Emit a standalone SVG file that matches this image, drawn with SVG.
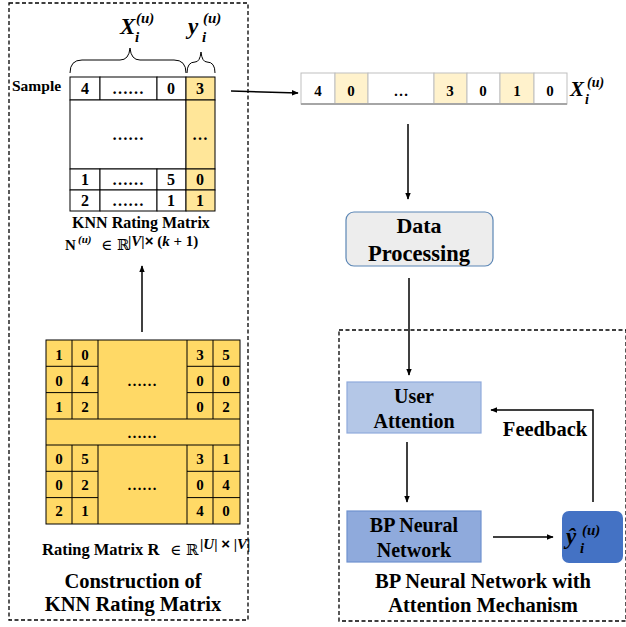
<svg xmlns="http://www.w3.org/2000/svg" width="626" height="627" viewBox="0 0 626 627" font-family="'Liberation Serif', 'Times New Roman', serif" font-weight="bold">
<defs>
<marker id="ah" viewBox="0 0 10 10" refX="9" refY="5" markerWidth="7" markerHeight="7" orient="auto" markerUnits="userSpaceOnUse"><path d="M0,1 L10,5 L0,9 Z" fill="#000"/></marker>
<style>
text{font-family:'Liberation Serif','Times New Roman',serif;font-weight:bold;fill:#000}
.dash{fill:none;stroke:#000;stroke-width:1.3;stroke-dasharray:4,2.5}
.c{text-anchor:middle}
.n{font-size:16px;text-anchor:middle}
.r{font-size:15px;text-anchor:middle}
.knn{fill:#fff;stroke:#000;stroke-width:1}
.ky{fill:#FFE699;stroke:#000;stroke-width:1}
.rm{fill:#FFD966;stroke:#000;stroke-width:1}
.vw{fill:#fff;stroke:#BFBFBF;stroke-width:1}
.vy{fill:#FFF2CC;stroke:#BFBFBF;stroke-width:1}
.ln{fill:none;stroke:#000;stroke-width:1.5}
.math{font-style:italic}
.big{font-size:20.5px}
.dbl{font-family:'DejaVu Serif',serif;font-weight:normal}
.sup{font-family:'Liberation Sans',Arial,sans-serif;font-weight:bold}
</style>
</defs>

<rect class="dash" x="9" y="3" width="239" height="617"/>
<rect class="dash" x="339" y="330" width="287" height="291"/>

<g id="knn-matrix">
<path d="M70,73 Q70,60 82,60 L120,60 Q129,60 130,48 Q131,60 140,60 L174,60 Q186,60 186,73" fill="none" stroke="#000" stroke-width="1"/>
<path d="M187,73 Q187,62 195,62 Q200,62 201,52 Q202,62 207,62 Q215,62 215,73" fill="none" stroke="#000" stroke-width="1"/>
<text x="120" y="34" class="math" font-size="23">X</text>
<text x="135" y="42" class="math" font-size="15">i</text>
<text x="136" y="23" class="math" font-size="15">(u)</text>
<text x="188" y="34" class="math" font-size="23">y</text>
<text x="202" y="42" class="math" font-size="15">i</text>
<text x="203" y="23" class="math" font-size="15">(u)</text>
<text x="12" y="91" font-size="15.5">Sample</text>
<rect class="knn" x="70" y="77" width="30" height="23"/>
<rect class="knn" x="100" y="77" width="57" height="23"/>
<rect class="knn" x="157" y="77" width="29" height="23"/>
<rect class="knn" x="70" y="100" width="116" height="69"/>
<rect class="knn" x="70" y="169" width="30" height="21"/>
<rect class="knn" x="100" y="169" width="57" height="21"/>
<rect class="knn" x="157" y="169" width="29" height="21"/>
<rect class="knn" x="70" y="190" width="30" height="21"/>
<rect class="knn" x="100" y="190" width="57" height="21"/>
<rect class="knn" x="157" y="190" width="29" height="21"/>
<rect class="ky" x="186" y="77" width="29" height="23"/>
<rect class="ky" x="186" y="100" width="29" height="69"/>
<rect class="ky" x="186" y="169" width="29" height="21"/>
<rect class="ky" x="186" y="190" width="29" height="21"/>
<text class="n" x="85" y="94">4</text><text class="n" x="128" y="94">……</text><text class="n" x="171" y="94">0</text><text class="n" x="200" y="94">3</text>
<text class="n" x="128" y="140">……</text><text class="n" x="200" y="140">…</text>
<text class="n" x="85" y="185">1</text><text class="n" x="128" y="185">……</text><text class="n" x="171" y="185">5</text><text class="n" x="200" y="185">0</text>
<text class="n" x="85" y="206">2</text><text class="n" x="128" y="206">……</text><text class="n" x="171" y="206">1</text><text class="n" x="200" y="206">1</text>
<text class="c" x="141" y="228" font-size="16">KNN Rating Matrix</text>
<text x="65" y="250" font-size="15">N</text>
<text x="78" y="243" class="math" font-size="11" font-weight="normal">(u)</text>
<text x="101" y="250" class="dbl" font-size="15">∈ ℝ</text>
<text x="128" y="246" font-size="15">|<tspan class="math">V</tspan>|<tspan class="sup">×</tspan> (<tspan class="math">k</tspan> + 1)</text>
</g>

<g id="rating-matrix">
<rect class="rm" x="46" y="340" width="194" height="184"/>
<g stroke="#000" stroke-width="1" fill="none">
<path d="M72,340V419 M98,340V419 M187,340V419 M213,340V419 M46,366.3H98 M187,366.3H240 M46,392.6H98 M187,392.6H240 M46,419H240 M46,445H240"/>
<path d="M72,445V524 M98,445V524 M187,445V524 M213,445V524 M46,471.3H98 M187,471.3H240 M46,497.6H98 M187,497.6H240"/>
</g>
<text class="r" x="59" y="360">1</text><text class="r" x="85" y="360">0</text><text class="r" x="200" y="360">3</text><text class="r" x="226" y="360">5</text>
<text class="r" x="59" y="386">0</text><text class="r" x="85" y="386">4</text><text class="r" x="200" y="386">0</text><text class="r" x="226" y="386">0</text>
<text class="r" x="59" y="412">1</text><text class="r" x="85" y="412">2</text><text class="r" x="200" y="412">0</text><text class="r" x="226" y="412">2</text>
<text class="r" x="142" y="386">……</text>
<text class="r" x="142" y="438">……</text>
<text class="r" x="59" y="464">0</text><text class="r" x="85" y="464">5</text><text class="r" x="200" y="464">3</text><text class="r" x="226" y="464">1</text>
<text class="r" x="59" y="490">0</text><text class="r" x="85" y="490">2</text><text class="r" x="200" y="490">0</text><text class="r" x="226" y="490">4</text>
<text class="r" x="59" y="516">2</text><text class="r" x="85" y="516">1</text><text class="r" x="200" y="516">4</text><text class="r" x="226" y="516">0</text>
<text class="r" x="142" y="490">……</text>
<text x="42" y="555" font-size="16.5">Rating Matrix  R</text>
<text x="170" y="555" class="dbl" font-size="15">∈ ℝ</text>
<text x="200" y="549" font-size="15">|<tspan class="math">U</tspan>| <tspan class="sup">×</tspan> |<tspan class="math">V</tspan>|</text>
<text class="c big" x="133" y="588">Construction of</text>
<text class="c big" x="133" y="611">KNN Rating Matrix</text>
</g>

<g id="vector">
<rect class="vw" x="301" y="73" width="34" height="31"/>
<rect class="vy" x="335" y="73" width="33" height="31"/>
<rect class="vw" x="368" y="73" width="66" height="31"/>
<rect class="vy" x="434" y="73" width="33" height="31"/>
<rect class="vw" x="467" y="73" width="33" height="31"/>
<rect class="vy" x="500" y="73" width="34" height="31"/>
<rect class="vw" x="534" y="73" width="33" height="31"/>
<path d="M301,104H567" stroke="#A6A6A6" stroke-width="2"/>
<text class="r" x="318" y="96">4</text>
<text class="r" x="351" y="96">0</text>
<text class="r" x="401" y="96">…</text>
<text class="r" x="450" y="96">3</text>
<text class="r" x="483" y="96">0</text>
<text class="r" x="517" y="96">1</text>
<text class="r" x="550" y="96">0</text>
<text x="570" y="96" class="math" font-size="21">X</text>
<text x="585" y="104" class="math" font-size="14">i</text>
<text x="587" y="87" class="math" font-size="14">(u)</text>
</g>

<g id="data-processing">
<rect x="346" y="212" width="147" height="54" rx="8" fill="#EDEDED" stroke="#5B86B5" stroke-width="1.2"/>
<text class="c" x="419" y="233" font-size="22">Data</text>
<text class="c" x="419" y="261" font-size="22.5">Processing</text>
</g>

<g id="user-attention">
<rect x="347" y="382" width="134" height="51" fill="#B4C7E7" stroke="#8FAADC" stroke-width="1.2"/>
<text class="c" x="414" y="403" font-size="20">User</text>
<text class="c" x="414" y="428" font-size="20">Attention</text>
</g>

<g id="bp-network">
<rect x="347" y="511" width="134" height="51" fill="#8FAADC" stroke="#6F92CF" stroke-width="1.2"/>
<text class="c" x="414" y="532" font-size="20">BP Neural</text>
<text class="c" x="414" y="557" font-size="20">Network</text>
</g>

<g id="output">
<rect x="562" y="511" width="61" height="52" rx="7" fill="#4472C4"/>
<text x="566" y="544" class="math" font-size="23" fill="#0b1a33">ŷ</text>
<text x="580" y="553" class="math" font-size="15">i</text>
<text x="582" y="535" class="math" font-size="15">(u)</text>
</g>

<g id="labels">
<text class="c" x="545" y="436" font-size="20.5">Feedback</text>
<text class="c big" x="483" y="588">BP Neural Network with</text>
<text class="c big" x="483" y="612">Attention Mechanism</text>
</g>

<g id="connectors">
<line class="ln" x1="231" y1="91" x2="298" y2="93" marker-end="url(#ah)"/>
<line class="ln" x1="408" y1="124" x2="408" y2="199" marker-end="url(#ah)"/>
<line class="ln" x1="142" y1="332" x2="142" y2="266" marker-end="url(#ah)"/>
<line class="ln" x1="409" y1="278" x2="409" y2="375" marker-end="url(#ah)"/>
<line class="ln" x1="407" y1="442" x2="407" y2="502" marker-end="url(#ah)"/>
<line class="ln" x1="493" y1="537" x2="553" y2="537" marker-end="url(#ah)"/>
<polyline class="ln" points="593,502 593,410 491,410" marker-end="url(#ah)"/>
</g>
</svg>
